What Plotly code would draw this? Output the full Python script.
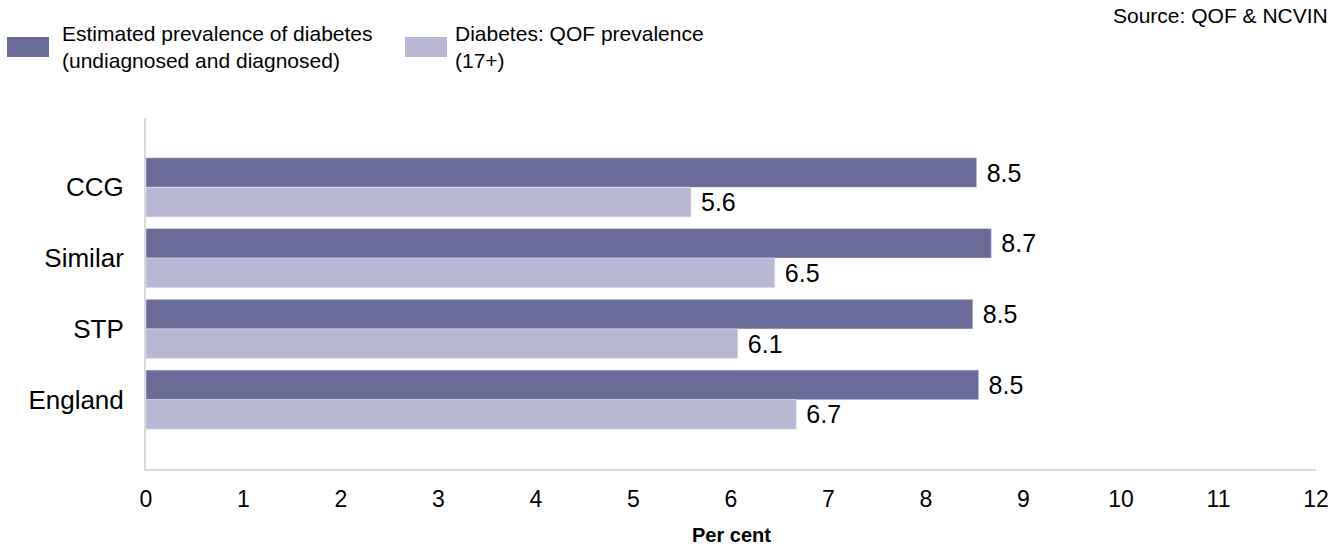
import plotly.graph_objects as go

categories = ["CCG", "Similar", "STP", "England"]
estimated = [8.52, 8.67, 8.48, 8.54]
qof = [5.59, 6.45, 6.07, 6.67]
series_names = ["Estimated prevalence of diabetes<br>(undiagnosed and diagnosed)",
                "Diabetes: QOF prevalence<br>(17+)"]
x_ticks = list(range(0, 13))
x_title = "<b>Per cent</b>"

DARK = "#6b6b9a"
LIGHT = "#b8b8d4"
FONT = "Liberation Sans, Arial, sans-serif"

W, H = 1342, 548
L, R, T, B = 146, 26, 118, 79
PW, PH = W - L - R, H - T - B


def px(x):
    return (x - L) / PW


def py(y):
    return (H - B - y) / PH


fig = go.Figure()
fig.add_trace(go.Bar(
    y=categories, x=estimated, orientation="h", marker_color=DARK,
    name=series_names[0], text=[f" {v:.1f}" for v in estimated],
    textposition="outside", textfont=dict(size=25, color="#000"),
    cliponaxis=False, showlegend=False, hoverinfo="skip"))
fig.add_trace(go.Bar(
    y=categories, x=qof, orientation="h", marker_color=LIGHT,
    name=series_names[1], text=[f" {v:.1f}" for v in qof],
    textposition="outside", textfont=dict(size=25, color="#000"),
    cliponaxis=False, showlegend=False, hoverinfo="skip"))

fig.update_layout(
    width=W, height=H,
    margin=dict(l=L, r=R, t=T, b=B, autoexpand=False),
    paper_bgcolor="white", plot_bgcolor="white",
    font=dict(family=FONT, color="#000"),
    barmode="group", bargap=0.165, bargroupgap=0,
    xaxis=dict(range=[0, 12], tickvals=x_ticks, showgrid=False, zeroline=False,
               showline=True, linecolor="#d9d9d9", linewidth=2, automargin=False,
               tickfont=dict(size=23), ticks="", ticklabelstandoff=8),
    yaxis=dict(range=[3.98, -0.98], showgrid=False, zeroline=False,
               showline=True, linecolor="#d9d9d9", linewidth=2, automargin=False,
               tickfont=dict(size=26), ticks="", ticklabelstandoff=15),
)

fig.add_annotation(xref="paper", yref="paper", x=0.5, y=py(535),
                   text=x_title, showarrow=False, xanchor="center", yanchor="middle",
                   font=dict(size=20, color="#000"))

# manual legend
legend_items = [(7, 60, DARK, series_names[0]), (405, 453, LIGHT, series_names[1])]
for x0, xt, col, label in legend_items:
    fig.add_shape(type="rect", xref="paper", yref="paper",
                  x0=px(x0), x1=px(x0 + 42), y0=py(57), y1=py(37),
                  fillcolor=col, line=dict(width=0))
    fig.add_annotation(xref="paper", yref="paper",
                       x=px(xt), y=py(47),
                       text=label, showarrow=False, xanchor="left", yanchor="middle",
                       align="left", font=dict(size=21, color="#000"))

fig.add_annotation(xref="paper", yref="paper", x=px(1330), y=py(16),
                   text="Source: QOF &amp; NCVIN",
                   showarrow=False, xanchor="right", yanchor="middle",
                   font=dict(size=21, color="#000"))

fig.write_html("out.html", config={"displayModeBar": False},
               post_script="document.body.style.margin='0px';")
